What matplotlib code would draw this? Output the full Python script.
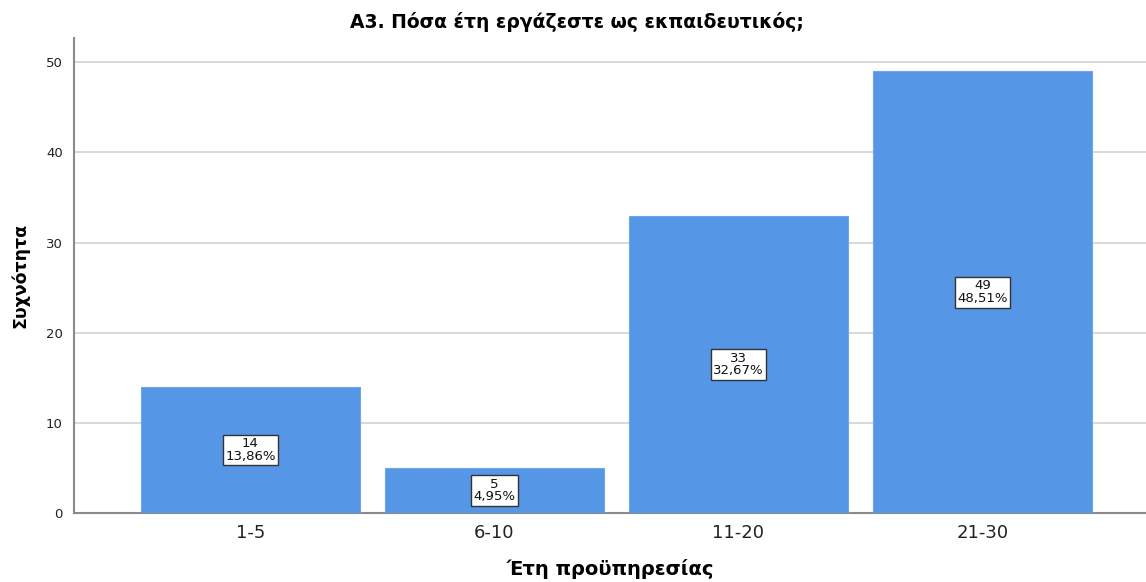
import matplotlib
matplotlib.use("Agg")
import matplotlib.pyplot as plt

categories = ["1-5", "6-10", "11-20", "21-30"]
counts = [14, 5, 33, 49]
percents = ["13,86%", "4,95%", "32,67%", "48,51%"]
yticks = [0, 10, 20, 30, 40, 50]

plt.rcParams['font.family'] = ['DejaVu Sans']

fig = plt.figure(figsize=(11.46, 5.82), dpi=100)
ax = fig.add_axes([74/1146, 1 - 513/582, (1146 - 74)/1146, (513 - 38)/582])

x = list(range(len(categories)))
ax.bar(x, counts, width=0.9, color="#5596e6", edgecolor="#6fa6ea", linewidth=0.8, zorder=3)

for xi, c, p in zip(x, counts, percents):
    ax.text(xi, c / 2, f"{c}\n{p}", ha="center", va="center", fontsize=9.5,
            linespacing=0.95, zorder=4, color="#111111",
            bbox=dict(boxstyle="square,pad=0.2", facecolor="white", edgecolor="#333333", linewidth=1.0))

ax.set_xlim(-0.723, 3.67)
ax.set_ylim(0, 52.7)
ax.set_yticks(yticks)
ax.set_xticks(x)
ax.set_xticklabels(categories, fontsize=13, color="#222222")
ax.tick_params(axis="y", labelsize=9.5, length=0, pad=8, colors="#222222")
ax.tick_params(axis="x", length=0, pad=8)
ax.yaxis.grid(True, color="#d2d2d2", linewidth=1.2, zorder=0)
ax.set_axisbelow(True)

for side in ["top", "right"]:
    ax.spines[side].set_visible(False)
for side in ["left", "bottom"]:
    ax.spines[side].set_color("#8a8a8a")
    ax.spines[side].set_linewidth(1.5)

ax.set_ylabel("Συχνότητα", fontsize=12.5, fontweight="bold", labelpad=12)
ax.set_xlabel("Έτη προϋπηρεσίας", fontsize=14, fontweight="bold", labelpad=12)
fig.text(577/1146, 1 - 22/582, "Α3. Πόσα έτη εργάζεστε ως εκπαιδευτικός;",
         ha="center", va="center", fontsize=13.5, fontweight="bold")

fig.savefig("out.png", dpi=100)
